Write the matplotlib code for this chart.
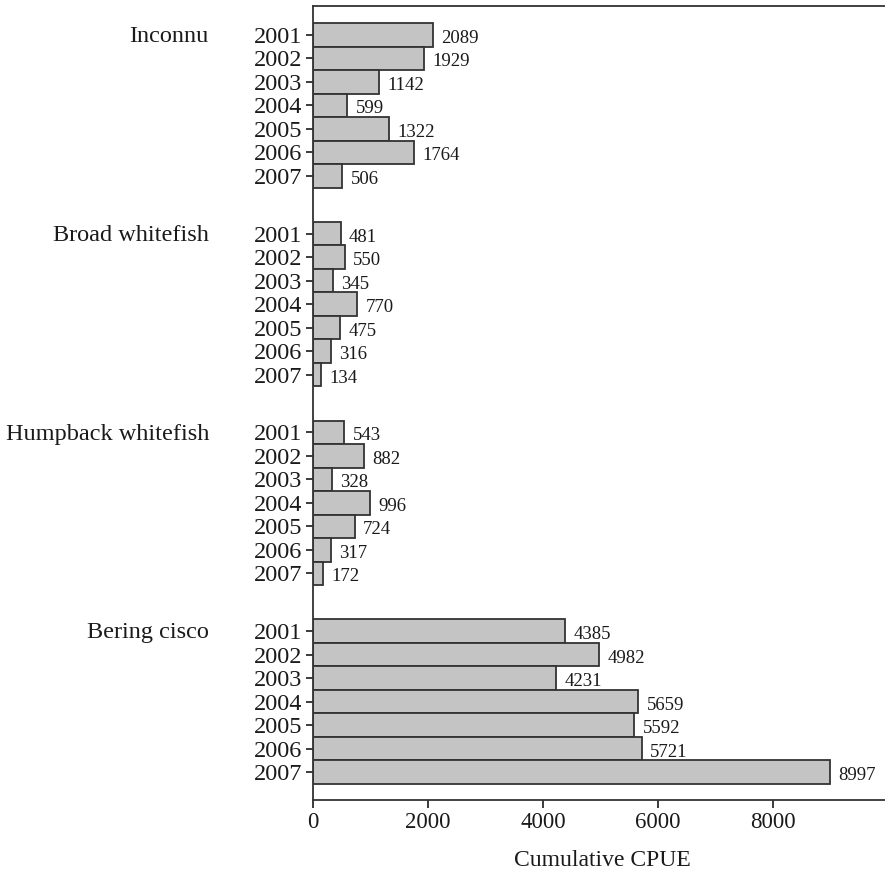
import matplotlib
matplotlib.use("Agg")
import matplotlib.pyplot as plt
import matplotlib.transforms as mtransforms
import numpy as np

plt.rcParams['font.family'] = ['Liberation Serif', 'DejaVu Serif']

species = ['Inconnu', 'Broad whitefish', 'Humpback whitefish', 'Bering cisco']
years = ['2001', '2002', '2003', '2004', '2005', '2006', '2007']

inconnu = [2089, 1929, 1142, 599, 1322, 1764, 506]
broad_whitefish = [481, 550, 345, 770, 475, 316, 134]
humpback_whitefish = [543, 882, 328, 996, 724, 317, 172]
bering_cisco = [4385, 4982, 4231, 5659, 5592, 5721, 8997]

groups = [inconnu, broad_whitefish, humpback_whitefish, bering_cisco]

# bar layout: one unit per year, extra gap between species
group_step = 8.455

fig = plt.figure(figsize=(8.85, 8.73), dpi=100)
ax = fig.add_axes([313 / 885, 1 - 800 / 873, 572 / 885, 794 / 873])

ypos = []
ylabels = []
for g, vals in enumerate(groups):
    pos = g * group_step + np.arange(len(years))
    ax.barh(pos, vals, height=1.0, color='#c4c4c4', edgecolor='#333333', linewidth=1.3)
    for p, v in zip(pos, vals):
        ax.annotate(str(v), (v, p), xytext=(6, -2.5), textcoords='offset points',
                    ha='left', va='center', fontsize=13.5, color='#1a1a1a')
    ypos.extend(pos)
    ylabels.extend(years)

# species names beside the first year of each block
trans = mtransforms.blended_transform_factory(fig.transFigure, ax.transData)
for g, name in enumerate(species):
    ax.text(209 / 885, g * group_step + 0.08, name, transform=trans, ha='right', va='center',
            fontsize=17.5, color='#1a1a1a')

ax.set_yticks(ypos)
ax.set_yticklabels(ylabels, fontsize=17.5, color='#1a1a1a')
ax.set_ylim(3 * group_step + 6 + 1.19, -1.234)

ax.set_xlim(0, 9950)
ax.set_xticks([0, 2000, 4000, 6000, 8000])
ax.tick_params(axis='x', labelsize=16.5, length=5.5, width=1.2, pad=3, colors='#1a1a1a')
ax.tick_params(axis='y', length=5, width=1.2, pad=3, colors='#1a1a1a')
ax.set_xlabel('Cumulative CPUE', fontsize=17, color='#1a1a1a')
ax.xaxis.set_label_coords((602 - 313) / 572, -0.063)

ax.spines['right'].set_visible(False)
for s in ['left', 'top', 'bottom']:
    ax.spines[s].set_linewidth(1.3)
    ax.spines[s].set_color('#333333')

fig.savefig('out.png', dpi=100)
